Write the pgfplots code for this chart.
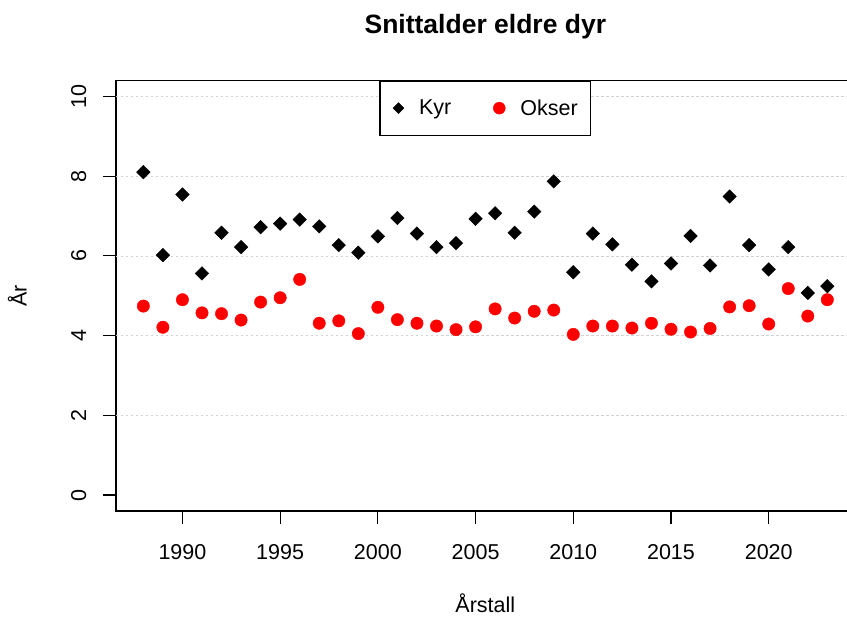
\documentclass[border=0pt]{standalone}
\usepackage{fontspec}
\setmainfont{Liberation Sans}
\usepackage{pgfplots}
\pgfplotsset{compat=1.18}
\begin{document}
\begin{tikzpicture}
\begin{axis}[
  scale only axis, width=738.7pt, height=430.5pt,
  xmin=1986.6, xmax=2024.4, ymin=-0.4, ymax=10.4,
  xtick={1990,1995,2000,2005,2010,2015,2020},
  ytick={0,2,4,6,8,10},
  xtick pos=bottom, ytick pos=left,
  tick align=outside, major tick length=13pt,
  tick style={black, line width=1.2pt},
  axis line style={line width=1.5pt},
  /pgf/number format/assume math mode=true,
  /pgf/number format/1000 sep={},
  tick label style={font=\fontsize{21.5}{25}\selectfont},
  xticklabel style={anchor=base, inner sep=0pt, yshift=-36pt},
  yticklabel style={xshift=-17pt, rotate=90, anchor=base, inner sep=0pt},
  extra y ticks={2,4,6,8,10},
  extra y tick labels={},
  extra y tick style={grid=major, major tick length=0pt},
  major grid style={gray!35, dash pattern=on 2.5pt off 2.5pt, line width=0.7pt},
  every axis title/.style={at={(axis description cs:0.5,1)}, anchor=base, yshift=47pt, inner sep=0pt, font=\bfseries\fontsize{26.5}{31}\selectfont},
  every axis x label/.style={at={(axis description cs:0.5,0)}, anchor=base, yshift=-102pt, inner sep=0pt, font=\fontsize{21.5}{25}\selectfont},
  every axis y label/.style={at={(axis description cs:0,0.5)}, xshift=-89.3pt, rotate=90, anchor=base, inner sep=0pt, font=\fontsize{21.5}{25}\selectfont},
  title={Snittalder eldre dyr},
  xlabel={Årstall},
  ylabel={År},
  legend columns=2,
  legend style={at={(axis description cs:0.5,1)}, anchor=north, draw=black, line width=1.2pt,
    font=\fontsize{21.5}{25}\selectfont, inner xsep=13pt, inner ysep=18.5pt,
    nodes={inner sep=0pt}, column sep=15pt,
    /tikz/every even column/.append style={column sep=42pt}},
]
\addplot[only marks, mark=square*, mark size=4.8pt, mark options={rotate=45, black, fill=black},
  legend image code/.code={\draw[mark=square*, mark size=3.9pt, mark options={rotate=45, black, fill=black, line width=0.4pt}] plot coordinates {(0pt,0pt)};}]
coordinates {
(1988,8.10)(1989,6.02)(1990,7.54)(1991,5.56)(1992,6.58)(1993,6.22)(1994,6.72)(1995,6.81)
(1996,6.91)(1997,6.74)(1998,6.27)(1999,6.08)(2000,6.49)(2001,6.95)(2002,6.56)(2003,6.22)
(2004,6.32)(2005,6.93)(2006,7.07)(2007,6.58)(2008,7.11)(2009,7.87)(2010,5.59)(2011,6.56)
(2012,6.29)(2013,5.78)(2014,5.36)(2015,5.81)(2016,6.50)(2017,5.76)(2018,7.49)(2019,6.27)
(2020,5.66)(2021,6.22)(2022,5.07)(2023,5.24)
};
\addlegendentry{Kyr}
\addplot[only marks, mark=*, mark size=6.2pt, mark options={red, fill=red},
  legend image code/.code={\draw[mark=*, mark size=6pt, mark options={red, fill=red, line width=0.4pt}] plot coordinates {(0pt,0pt)};}]
coordinates {
(1988,4.74)(1989,4.21)(1990,4.90)(1991,4.57)(1992,4.55)(1993,4.39)(1994,4.84)(1995,4.95)
(1996,5.41)(1997,4.31)(1998,4.37)(1999,4.05)(2000,4.71)(2001,4.40)(2002,4.31)(2003,4.24)
(2004,4.15)(2005,4.22)(2006,4.67)(2007,4.44)(2008,4.61)(2009,4.64)(2010,4.03)(2011,4.24)
(2012,4.24)(2013,4.19)(2014,4.31)(2015,4.16)(2016,4.09)(2017,4.18)(2018,4.72)(2019,4.75)
(2020,4.29)(2021,5.18)(2022,4.49)(2023,4.90)
};
\addlegendentry{Okser}
\coordinate (bl) at (rel axis cs:0,0);
\end{axis}
\pgfresetboundingbox
\path[use as bounding box] (bl) ++(-116pt,-106pt) rectangle ++(847pt,617pt);
\end{tikzpicture}
\end{document}
